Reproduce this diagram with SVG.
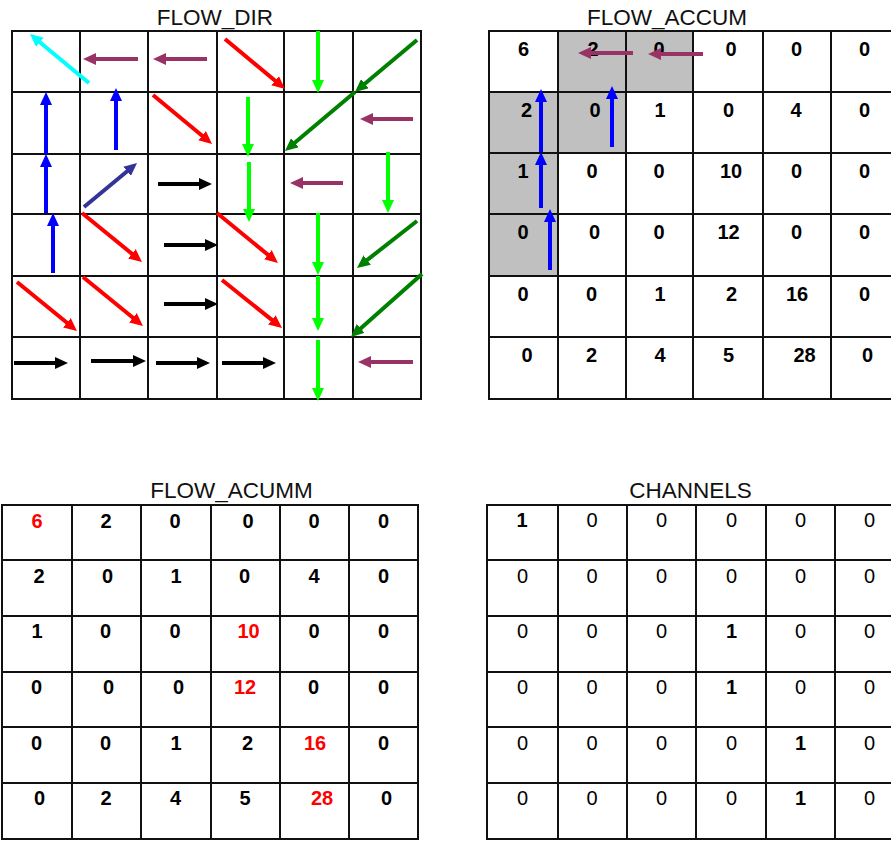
<svg xmlns="http://www.w3.org/2000/svg" width="891" height="842" viewBox="0 0 891 842">
<style>
.title{font-family:"Liberation Sans",Arial,sans-serif;font-size:22.5px;fill:#111;text-anchor:middle}
.n{font-family:"Liberation Sans",Arial,sans-serif;font-size:20px;font-weight:bold;fill:#000;text-anchor:middle}
.r{fill:#ff0000}
.p{font-family:"Liberation Sans",Arial,sans-serif;font-size:20px;fill:#000;text-anchor:middle}
.grid{fill:none;stroke:#111;stroke-width:2}
.gray{fill:#c0c0c0}
.a{fill:none;stroke-width:4}
.cy{stroke:#00ffff}.pu{stroke:#993366}.bl{stroke:#0000ff}.rd{stroke:#ff0000}.nv{stroke:#333399}.bk{stroke:#000}.lm{stroke:#00ff00}.dg{stroke:#008000}
</style>
<defs>
<marker id="m-cy" viewBox="0 0 13 12" refX="8" refY="6" markerWidth="13" markerHeight="12" markerUnits="userSpaceOnUse" orient="auto"><path d="M0,0L13,6L0,12Z" fill="#00ffff"/></marker>
<marker id="m-pu" viewBox="0 0 13 12" refX="8" refY="6" markerWidth="13" markerHeight="12" markerUnits="userSpaceOnUse" orient="auto"><path d="M0,0L13,6L0,12Z" fill="#993366"/></marker>
<marker id="m-bl" viewBox="0 0 13 12" refX="8" refY="6" markerWidth="13" markerHeight="12" markerUnits="userSpaceOnUse" orient="auto"><path d="M0,0L13,6L0,12Z" fill="#0000ff"/></marker>
<marker id="m-rd" viewBox="0 0 13 12" refX="8" refY="6" markerWidth="13" markerHeight="12" markerUnits="userSpaceOnUse" orient="auto"><path d="M0,0L13,6L0,12Z" fill="#ff0000"/></marker>
<marker id="m-nv" viewBox="0 0 13 12" refX="8" refY="6" markerWidth="13" markerHeight="12" markerUnits="userSpaceOnUse" orient="auto"><path d="M0,0L13,6L0,12Z" fill="#333399"/></marker>
<marker id="m-bk" viewBox="0 0 13 12" refX="8" refY="6" markerWidth="13" markerHeight="12" markerUnits="userSpaceOnUse" orient="auto"><path d="M0,0L13,6L0,12Z" fill="#000"/></marker>
<marker id="m-lm" viewBox="0 0 13 12" refX="8" refY="6" markerWidth="13" markerHeight="12" markerUnits="userSpaceOnUse" orient="auto"><path d="M0,0L13,6L0,12Z" fill="#00ff00"/></marker>
<marker id="m-dg" viewBox="0 0 13 12" refX="8" refY="6" markerWidth="13" markerHeight="12" markerUnits="userSpaceOnUse" orient="auto"><path d="M0,0L13,6L0,12Z" fill="#008000"/></marker>
</defs>
<rect width="891" height="842" fill="#fff"/>

<g id="flow_dir">
<text class="title" x="215" y="25">FLOW_DIR</text>
<path class="grid" d="M12,31H421V399H12Z M80,31V399 M148,31V399 M217,31V399 M284,31V399 M353,31V399 M12,92H421 M12,154H421 M12,214H421 M12,276H421 M12,337H421"/>
</g>

<g id="flow_accum">
<text class="title" x="667" y="25">FLOW_ACCUM</text>
<rect class="gray" x="558" y="31" width="135" height="61"/>
<rect class="gray" x="489" y="92" width="137" height="61"/>
<rect class="gray" x="489" y="153" width="69" height="123"/>
<path class="grid" d="M489,31H900V399H489Z M558,31V399 M626,31V399 M693,31V399 M763,31V399 M831,31V399 M489,92H900 M489,153H900 M489,214H900 M489,276H900 M489,337H900"/>
<g class="n">
<text x="523.5" y="56">6</text><text x="593" y="56">2</text><text x="659" y="56">0</text><text x="731" y="56">0</text><text x="796.5" y="56">0</text><text x="864.5" y="56">0</text>
<text x="526.5" y="117">2</text><text x="595" y="117">0</text><text x="660" y="117">1</text><text x="728.5" y="117">0</text><text x="796" y="117">4</text><text x="864.5" y="117">0</text>
<text x="523" y="178">1</text><text x="592" y="178">0</text><text x="659" y="178">0</text><text x="731" y="178">10</text><text x="796.5" y="178">0</text><text x="864.5" y="178">0</text>
<text x="523" y="239">0</text><text x="594.5" y="239">0</text><text x="659" y="239">0</text><text x="728.5" y="239">12</text><text x="796.5" y="239">0</text><text x="864.5" y="239">0</text>
<text x="523" y="301">0</text><text x="591.5" y="301">0</text><text x="660" y="301">1</text><text x="731.5" y="301">2</text><text x="797" y="301">16</text><text x="864.5" y="301">0</text>
<text x="527" y="362">0</text><text x="591.5" y="362">2</text><text x="660" y="362">4</text><text x="728.5" y="362">5</text><text x="804.5" y="362">28</text><text x="867.5" y="362">0</text>
</g>
</g>

<g id="flow_acumm">
<text class="title" x="231.5" y="498">FLOW_ACUMM</text>
<path class="grid" d="M2,505H418V839H2Z M72,505V839 M141,505V839 M211,505V839 M280,505V839 M349,505V839 M2,560H418 M2,616H418 M2,672H418 M2,727H418 M2,783H418"/>
<g class="n">
<text class="r" x="37" y="528">6</text><text x="106" y="528">2</text><text x="175" y="528">0</text><text x="248" y="528">0</text><text x="314" y="528">0</text><text x="383.5" y="528">0</text>
<text x="39" y="583">2</text><text x="107.5" y="583">0</text><text x="176" y="583">1</text><text x="244.5" y="583">0</text><text x="314" y="583">4</text><text x="383.5" y="583">0</text>
<text x="37" y="638">1</text><text x="105.5" y="638">0</text><text x="175" y="638">0</text><text class="r" x="248.5" y="638">10</text><text x="314" y="638">0</text><text x="383.5" y="638">0</text>
<text x="36.5" y="694">0</text><text x="108.5" y="694">0</text><text x="178.5" y="694">0</text><text class="r" x="245" y="694">12</text><text x="313.5" y="694">0</text><text x="383.5" y="694">0</text>
<text x="36.5" y="750">0</text><text x="105.5" y="750">0</text><text x="176" y="750">1</text><text x="247.5" y="750">2</text><text class="r" x="315" y="750">16</text><text x="383.5" y="750">0</text>
<text x="39.5" y="805">0</text><text x="106" y="805">2</text><text x="175.5" y="805">4</text><text x="245" y="805">5</text><text class="r" x="322" y="805">28</text><text x="386.5" y="805">0</text>
</g>
</g>

<g id="channels">
<text class="title" x="690.5" y="498">CHANNELS</text>
<path class="grid" d="M487,505H904V839H487Z M558,505V839 M627,505V839 M696,505V839 M766,505V839 M835,505V839 M487,560H904 M487,616H904 M487,672H904 M487,727H904 M487,783H904"/>
<g class="p">
<text class="n" x="522" y="527">1</text><text x="592" y="527">0</text><text x="661.5" y="527">0</text><text x="731.5" y="527">0</text><text x="800.5" y="527">0</text><text x="869.5" y="527">0</text>
<text x="522.5" y="583">0</text><text x="592" y="583">0</text><text x="661.5" y="583">0</text><text x="731.5" y="583">0</text><text x="800.5" y="583">0</text><text x="869.5" y="583">0</text>
<text x="522.5" y="638">0</text><text x="592" y="638">0</text><text x="661.5" y="638">0</text><text class="n" x="731.5" y="638">1</text><text x="800.5" y="638">0</text><text x="869.5" y="638">0</text>
<text x="522.5" y="694">0</text><text x="592" y="694">0</text><text x="661.5" y="694">0</text><text class="n" x="731.5" y="694">1</text><text x="800.5" y="694">0</text><text x="869.5" y="694">0</text>
<text x="522.5" y="750">0</text><text x="592" y="750">0</text><text x="661.5" y="750">0</text><text x="731.5" y="750">0</text><text class="n" x="800.5" y="750">1</text><text x="869.5" y="750">0</text>
<text x="522.5" y="805">0</text><text x="592" y="805">0</text><text x="661.5" y="805">0</text><text x="731.5" y="805">0</text><text class="n" x="800.5" y="805">1</text><text x="869.5" y="805">0</text>
</g>
</g>

<g id="connectors">
<line class="a cy" x1="89" y1="83" x2="33.8" y2="37.2" marker-end="url(#m-cy)"/>
<line class="a pu" x1="138" y1="59" x2="88" y2="59" marker-end="url(#m-pu)"/>
<line class="a pu" x1="207" y1="59" x2="158" y2="59" marker-end="url(#m-pu)"/>
<line class="a bl" x1="46" y1="154" x2="46" y2="97" marker-end="url(#m-bl)"/>
<line class="a bl" x1="46" y1="213" x2="46" y2="159" marker-end="url(#m-bl)"/>
<line class="a bl" x1="53" y1="273" x2="53" y2="218" marker-end="url(#m-bl)"/>
<line class="a bl" x1="116" y1="150" x2="116" y2="93" marker-end="url(#m-bl)"/>
<line class="a rd" x1="153" y1="95" x2="208.2" y2="140.8" marker-end="url(#m-rd)"/>
<line class="a nv" x1="84" y1="207" x2="133.2" y2="166.2" marker-end="url(#m-nv)"/>
<line class="a bk" x1="158" y1="184" x2="207" y2="184" marker-end="url(#m-bk)"/>
<line class="a rd" x1="225" y1="39" x2="281.2" y2="85.8" marker-end="url(#m-rd)"/>
<line class="a lm" x1="318" y1="31" x2="318" y2="88" marker-end="url(#m-lm)"/>
<line class="a dg" x1="417" y1="40" x2="358.8" y2="88.8" marker-end="url(#m-dg)"/>
<line class="a dg" x1="355" y1="92" x2="288.8" y2="147.8" marker-end="url(#m-dg)"/>
<line class="a lm" x1="248" y1="97" x2="248" y2="152" marker-end="url(#m-lm)"/>
<line class="a lm" x1="249" y1="162" x2="249" y2="217" marker-end="url(#m-lm)"/>
<line class="a pu" x1="413" y1="119" x2="365" y2="119" marker-end="url(#m-pu)"/>
<line class="a pu" x1="343" y1="183" x2="295" y2="183" marker-end="url(#m-pu)"/>
<line class="a lm" x1="388" y1="152" x2="388" y2="208" marker-end="url(#m-lm)"/>
<line class="a rd" x1="82" y1="213" x2="138.1" y2="258.8" marker-end="url(#m-rd)"/>
<line class="a bk" x1="164" y1="245" x2="213" y2="245" marker-end="url(#m-bk)"/>
<line class="a rd" x1="17" y1="282" x2="73.1" y2="327.8" marker-end="url(#m-rd)"/>
<line class="a rd" x1="83" y1="277" x2="139.1" y2="322.8" marker-end="url(#m-rd)"/>
<line class="a bk" x1="164" y1="304" x2="213" y2="304" marker-end="url(#m-bk)"/>
<line class="a bk" x1="14" y1="363" x2="63" y2="363" marker-end="url(#m-bk)"/>
<line class="a bk" x1="91" y1="361" x2="141" y2="361" marker-end="url(#m-bk)"/>
<line class="a bk" x1="156" y1="363" x2="205" y2="363" marker-end="url(#m-bk)"/>
<line class="a rd" x1="217" y1="213" x2="274.1" y2="259.8" marker-end="url(#m-rd)"/>
<line class="a lm" x1="318" y1="213" x2="318" y2="270" marker-end="url(#m-lm)"/>
<line class="a dg" x1="417" y1="221" x2="360.9" y2="264.9" marker-end="url(#m-dg)"/>
<line class="a rd" x1="222" y1="280" x2="278.1" y2="324.9" marker-end="url(#m-rd)"/>
<line class="a lm" x1="318" y1="276" x2="318" y2="326" marker-end="url(#m-lm)"/>
<line class="a dg" x1="422" y1="274" x2="354.7" y2="333.7" marker-end="url(#m-dg)"/>
<line class="a bk" x1="222" y1="363" x2="271" y2="363" marker-end="url(#m-bk)"/>
<line class="a lm" x1="318" y1="340" x2="318" y2="396" marker-end="url(#m-lm)"/>
<line class="a pu" x1="413" y1="362" x2="363" y2="362" marker-end="url(#m-pu)"/>
<line class="a pu" x1="633" y1="53" x2="583" y2="53" marker-end="url(#m-pu)"/>
<line class="a pu" x1="703" y1="54" x2="653" y2="54" marker-end="url(#m-pu)"/>
<line class="a bl" x1="541" y1="152" x2="541" y2="94" marker-end="url(#m-bl)"/>
<line class="a bl" x1="541" y1="208" x2="541" y2="157" marker-end="url(#m-bl)"/>
<line class="a bl" x1="550" y1="270" x2="550" y2="214" marker-end="url(#m-bl)"/>
<line class="a bl" x1="612" y1="147" x2="612" y2="91" marker-end="url(#m-bl)"/>
</g>
</svg>
